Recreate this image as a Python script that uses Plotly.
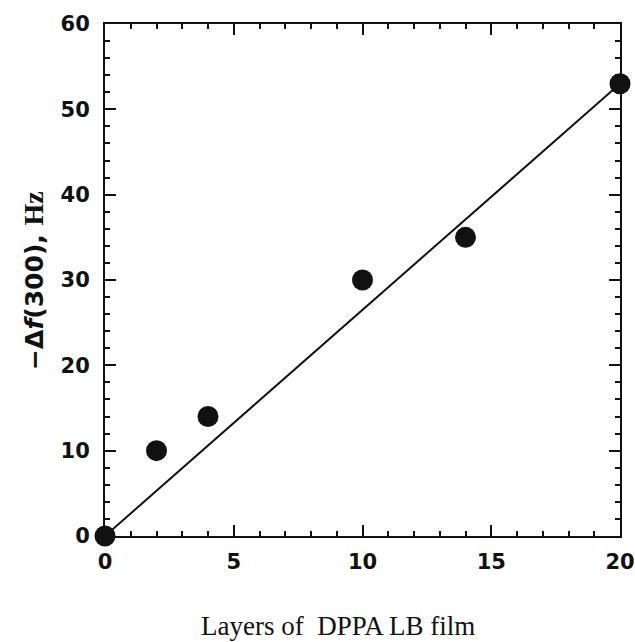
import plotly.graph_objects as go

layers = [0, 2, 4, 10, 14, 20]
delta_f = [0, 10, 14, 30, 35, 53]
fit_x = [0, 20]
fit_y = [0, 53]

x_ticks = [0, 5, 10, 15, 20]
y_ticks = [0, 10, 20, 30, 40, 50, 60]

fig = go.Figure()
fig.add_trace(go.Scatter(x=fit_x, y=fit_y, mode="lines",
                         line=dict(color="#111111", width=2), showlegend=False, cliponaxis=False))
fig.add_trace(go.Scatter(x=layers, y=delta_f, mode="markers",
                         marker=dict(color="#111111", size=21), showlegend=False, cliponaxis=False))

axis_common = dict(showline=True, linecolor="#111111", linewidth=2, mirror="allticks",
                   ticks="inside", tickcolor="#111111", tickwidth=2, ticklen=11,
                   showgrid=False, zeroline=False, automargin=False,
                   tickfont=dict(family="DejaVu Sans", size=21, color="#111111"))

fig.update_xaxes(range=[0, 20], tickvals=x_ticks, ticktext=[f"<b>{v}</b>" for v in x_ticks],
                 ticklabelstandoff=6,
                 minor=dict(dtick=1, ticks="inside", ticklen=5, tickcolor="#111111", tickwidth=2),
                 **axis_common)
fig.update_yaxes(range=[0, 60], tickvals=y_ticks, ticktext=[f"<b>{v}</b>" for v in y_ticks],
                 ticklabelstandoff=9,
                 minor=dict(dtick=2, ticks="inside", ticklen=5, tickcolor="#111111", tickwidth=2),
                 **axis_common)

fig.add_annotation(text="Layers of  DPPA LB film", xref="paper", yref="paper",
                   x=0.452, y=-0.175, xanchor="center", yanchor="middle", showarrow=False,
                   font=dict(family="Liberation Serif", size=27, color="#111111"))
fig.add_annotation(text="<b>−Δ<i>f</i>(300), <span style='font-family:Liberation Serif;font-size:28px'>Hz</span></b>",
                   xref="paper", yref="paper",
                   x=-0.14, y=0.5, xanchor="center", yanchor="middle", showarrow=False,
                   textangle=-90,
                   font=dict(family="DejaVu Sans", size=25, color="#111111"))

fig.update_layout(width=635, height=642, margin=dict(l=105, r=15, t=24, b=106),
                  paper_bgcolor="white", plot_bgcolor="white", font=dict(family="DejaVu Sans"))

fig.write_html("out.html")
